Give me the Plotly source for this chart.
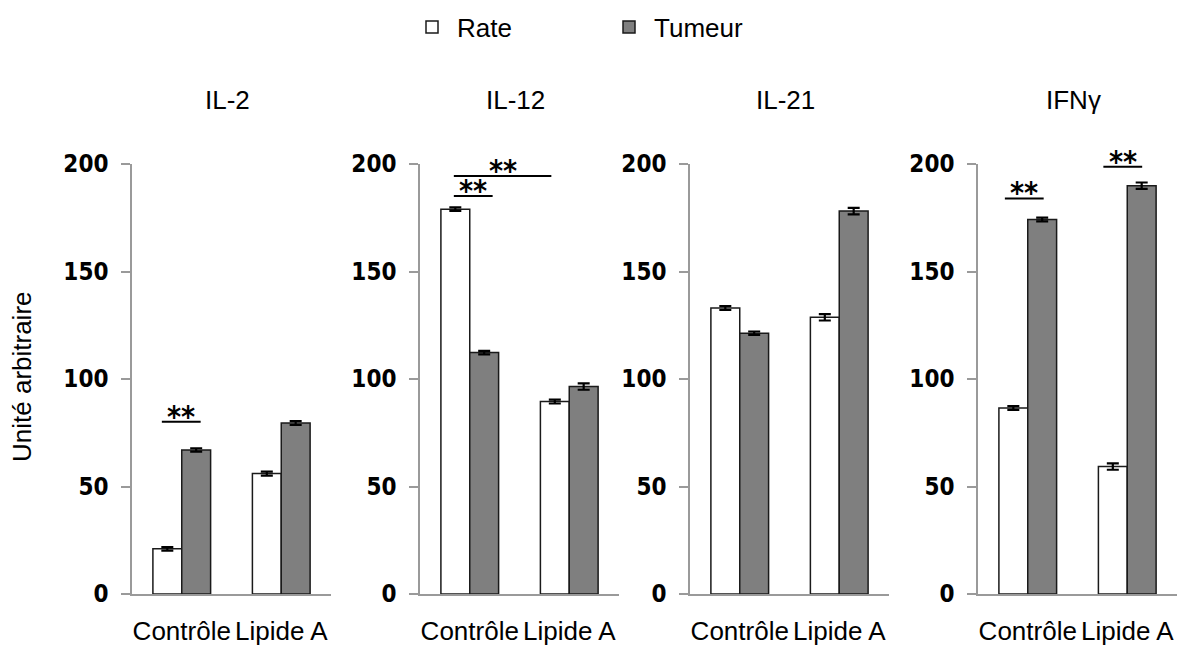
import plotly.graph_objects as go

categories = ["Contrôle", "Lipide A"]
panels = ["IL-2", "IL-12", "IL-21", "IFNγ"]
rate_values = [[21, 56], [179, 89.5], [133, 128.7], [86.5, 59.3]]
rate_errors = [[0.8, 0.9], [0.8, 0.9], [0.9, 1.5], [0.9, 1.5]]
tumeur_values = [[67, 79.5], [112.3, 96.5], [121.3, 178.1], [174.2, 189.9]]
tumeur_errors = [[0.8, 0.9], [0.8, 1.5], [0.8, 1.5], [0.9, 1.5]]
y_ticks = [0, 50, 100, 150, 200]
# significance markers: (panel index, x start, x end, y level) in category units
sig_marks = [(0, -0.2, 0.19, 80.1), (1, -0.16, 0.82, 194.4), (1, -0.16, 0.23, 185.1),
             (3, -0.23, 0.16, 184.0), (3, 0.76, 1.15, 198.7)]

W, H = 1190, 646
x_px = [(132, 331), (420, 619), (690, 889), (978, 1177)]
y_px = (164, 594)

AXIS_COLOR = "#9a9a9a"
TEXT_FONT = "Liberation Sans, Arial, sans-serif"
TICK_FONT = "DejaVu Sans Condensed, DejaVu Sans, sans-serif"

fig = go.Figure()
layout = dict(
    width=W, height=H,
    margin=dict(l=0, r=0, t=0, b=0, autoexpand=False),
    paper_bgcolor="white", plot_bgcolor="white",
    barmode="group", bargap=0.42, bargroupgap=0,
    showlegend=True,
    legend=dict(orientation="h", x=407 / W, xanchor="left", y=1 - 27 / H, yanchor="middle",
                font=dict(family=TEXT_FONT, size=26, color="black"),
                entrywidth=142, traceorder="normal", itemwidth=40),
)

ydom = [1 - y_px[1] / H, 1 - y_px[0] / H]
annotations = []
shapes = []
for i, name in enumerate(panels):
    s = "" if i == 0 else str(i + 1)
    xa, ya = "x" + s, "y" + s
    fig.add_trace(go.Bar(
        x=categories, y=rate_values[i], name="Rate", legendgroup="Rate", showlegend=(i == 0),
        marker=dict(color="white", line=dict(color="#1a1a1a", width=1.5)),
        error_y=dict(type="data", array=rate_errors[i], color="black", thickness=2.2, width=6),
        xaxis=xa, yaxis=ya))
    fig.add_trace(go.Bar(
        x=categories, y=tumeur_values[i], name="Tumeur", legendgroup="Tumeur", showlegend=(i == 0),
        marker=dict(color="#7f7f7f", line=dict(color="#1a1a1a", width=1.5)),
        error_y=dict(type="data", array=tumeur_errors[i], color="black", thickness=2.2, width=6),
        xaxis=xa, yaxis=ya))
    layout["xaxis" + s] = dict(
        domain=[x_px[i][0] / W, x_px[i][1] / W], anchor=ya, automargin=False,
        showline=True, linecolor=AXIS_COLOR, linewidth=1.5, ticks="",
        showgrid=False, zeroline=False, ticklabelstandoff=13,
        tickfont=dict(family=TEXT_FONT, size=26, color="black"))
    layout["yaxis" + s] = dict(
        domain=ydom, anchor=xa, range=[0, 200], tickvals=y_ticks, automargin=False,
        showline=True, linecolor=AXIS_COLOR, linewidth=1.5,
        ticks="outside", ticklen=9, tickwidth=1.5, tickcolor=AXIS_COLOR,
        showgrid=False, zeroline=False, ticklabelstandoff=8,
        tickfont=dict(family=TICK_FONT, size=24, color="black", weight="bold"))
    annotations.append(dict(
        text=name, xref=xa + " domain", yref="paper", x=0.5, y=1 - 100 / H,
        xanchor="center", yanchor="middle", xshift=-4, showarrow=False,
        font=dict(family=TEXT_FONT, size=26, color="black")))

for (p, x0, x1, yv) in sig_marks:
    s = "" if p == 0 else str(p + 1)
    xa, ya = "x" + s, "y" + s
    shapes.append(dict(type="line", xref=xa, yref=ya, x0=x0, x1=x1, y0=yv, y1=yv,
                       line=dict(color="black", width=2)))
    annotations.append(dict(
        text="**", xref=xa, yref=ya, x=(x0 + x1) / 2, y=yv, xanchor="center", yanchor="bottom",
        yshift=-14, showarrow=False,
        font=dict(family=TICK_FONT, size=30, color="black", weight="bold")))

annotations.append(dict(
    text="Unité arbitraire", xref="paper", yref="paper", x=22 / W, y=1 - 377 / H,
    xanchor="center", yanchor="middle", textangle=-90, showarrow=False,
    font=dict(family=TEXT_FONT, size=26, color="black")))

layout["annotations"] = annotations
layout["shapes"] = shapes
fig.update_layout(**layout)
fig.write_html("out.html", config={"displayModeBar": False},
               post_script="document.body.style.margin='0';document.body.style.overflow='hidden';")
